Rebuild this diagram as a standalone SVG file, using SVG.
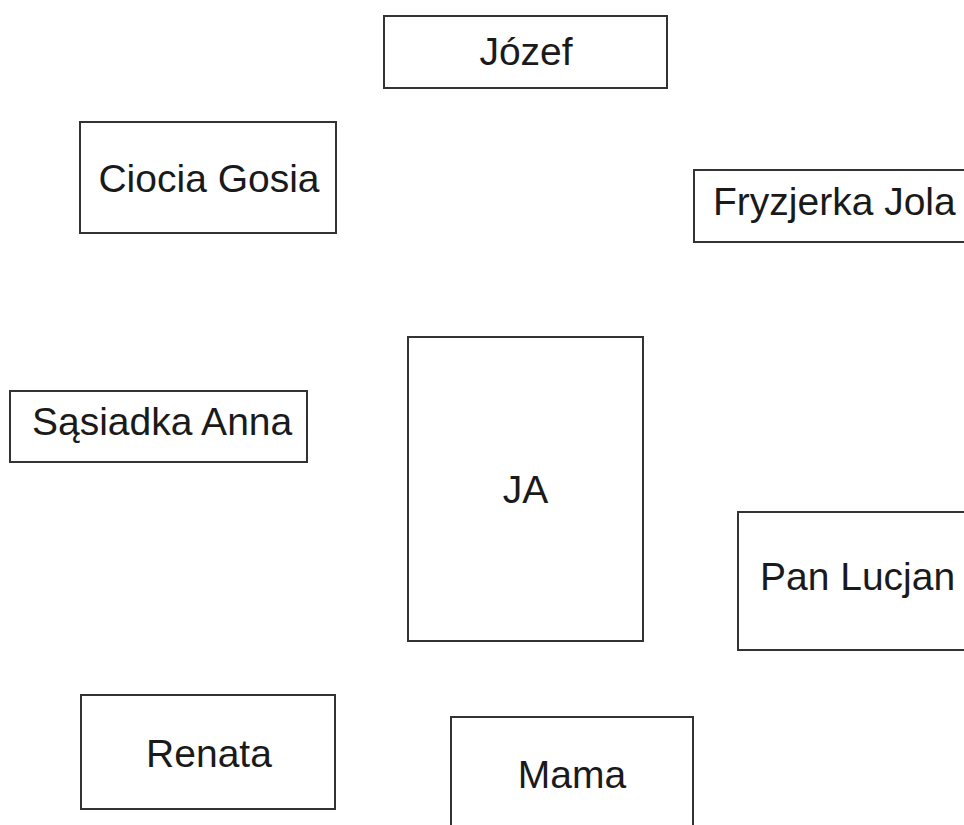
<svg xmlns="http://www.w3.org/2000/svg" width="964" height="825" viewBox="0 0 964 825">
<style>
.box{fill:#fff;stroke:#333;stroke-width:2}
.t{font-family:"Liberation Sans",Arial,sans-serif;font-size:39px;fill:#1a1a1a}
.c{text-anchor:middle}
</style>
<rect width="964" height="825" fill="#fff"/>
<g id="connectors"></g>
<g id="jozef"><rect class="box" x="384" y="16" width="283" height="72"/><text class="t c" x="526" y="65">Józef</text></g>
<g id="ciocia-gosia"><rect class="box" x="80" y="122" width="256" height="111"/><text class="t c" x="209" y="192">Ciocia Gosia</text></g>
<g id="fryzjerka-jola"><rect class="box" x="694" y="170" width="290" height="72"/><text class="t" x="713" y="215">Fryzjerka Jola</text></g>
<g id="sasiadka-anna"><rect class="box" x="10" y="391" width="297" height="71"/><text class="t" x="32" y="435">Sąsiadka Anna</text></g>
<g id="ja"><rect class="box" x="408" y="337" width="235" height="304"/><text class="t c" x="525.5" y="503">JA</text></g>
<g id="pan-lucjan"><rect class="box" x="738" y="512" width="250" height="138"/><text class="t" x="760" y="590">Pan Lucjan</text></g>
<g id="renata"><rect class="box" x="81" y="695" width="254" height="114"/><text class="t c" x="209" y="767">Renata</text></g>
<g id="mama"><rect class="box" x="451" y="717" width="242" height="130"/><text class="t c" x="572" y="788">Mama</text></g>
</svg>
